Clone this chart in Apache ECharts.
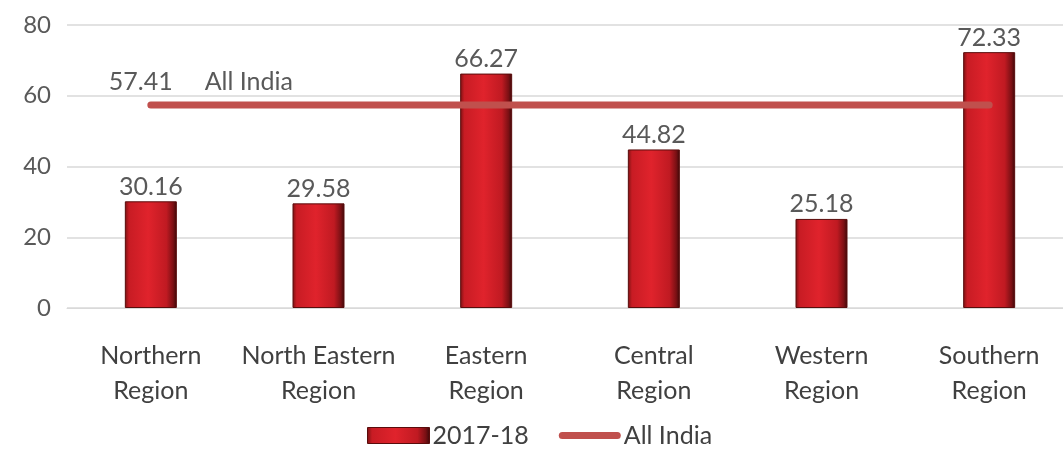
<!DOCTYPE html>
<html><head><meta charset="utf-8">
<script src="https://cdn.jsdelivr.net/npm/echarts@6/dist/echarts.min.js"></script>
<style>html,body{margin:0;padding:0;background:#fff;overflow:hidden}#c{width:1073px;height:455px}</style>
</head><body><div id="c"></div>
<script>
const categories = ['Northern\nRegion','North Eastern\nRegion','Eastern\nRegion','Central\nRegion','Western\nRegion','Southern\nRegion'];
const values2017 = [30.16, 29.58, 66.27, 44.82, 25.18, 72.33];
const allIndiaValue = 57.41;
const allIndia = categories.map(() => allIndiaValue);
const yTicks = [0, 20, 40, 60, 80];

const FONT = 'Lato, "Open Sans", sans-serif';
const chart = echarts.init(document.getElementById('c'));
const barGrad = new echarts.graphic.LinearGradient(0, 0, 1, 0, [
  {offset: 0, color: '#7a1212'},
  {offset: 0.08, color: '#c81c24'},
  {offset: 0.45, color: '#e0232c'},
  {offset: 0.8, color: '#c01a22'},
  {offset: 0.93, color: '#7a1014'},
  {offset: 1, color: '#3a0808'}
]);
chart.setOption({
  animation: false,
  textStyle: {fontFamily: FONT},
  grid: {left: 67, right: 0, top: 25, bottom: 147},
  legend: {
    bottom: 2, left: 362, itemGap: 30,
    textStyle: {fontSize: 25, color: '#404040', fontFamily: FONT, padding: [0, 0, 0, -2]},
    data: [
      {name: '2017-18', icon: 'rect', itemStyle: {color: barGrad, borderColor: '#5a0c0c', borderWidth: 1}},
      {name: 'All India', icon: 'path://M3.5,0 L58.5,0 A3.5,3.5 0 0 1 58.5,7 L3.5,7 A3.5,3.5 0 0 1 3.5,0 Z', itemStyle: {color: '#c0504d', borderWidth: 0}}
    ],
    itemWidth: 62, itemHeight: 16
  },
  xAxis: {
    type: 'category', data: categories,
    axisLine: {show: true, lineStyle: {color: '#d9d9d9', width: 1}},
    axisTick: {show: false},
    axisLabel: {fontSize: 25, color: '#404040', lineHeight: 35, margin: 30, fontFamily: FONT, interval: 0}
  },
  yAxis: {
    type: 'value', min: yTicks[0], max: yTicks[yTicks.length-1], interval: 20,
    axisLine: {show: false}, axisTick: {show: false},
    splitLine: {lineStyle: {color: '#d9d9d9', width: 1.5}},
    axisLabel: {fontSize: 24, color: '#595959', margin: 16, fontFamily: FONT}
  },
  series: [
    {
      name: '2017-18', type: 'bar', data: values2017, barWidth: 52,
      itemStyle: {color: barGrad, borderColor: '#5a0c0c', borderWidth: 1},
      label: {show: true, position: 'top', distance: 2, fontSize: 25, color: '#595959', fontFamily: FONT,
        formatter: p => p.value.toFixed(2)},
      z: 2
    },
    {
      name: 'All India', type: 'line', data: allIndia, symbol: 'none',
      lineStyle: {color: '#c0504d', width: 7, cap: 'round'},
      itemStyle: {color: '#c0504d'},
      z: 3,
      markPoint: {
        symbol: 'circle', symbolSize: 0,
        data: [{coord: [0, allIndiaValue], value: allIndiaValue}],
        label: {show: true, position: 'top', offset: [50, -5], fontSize: 25, color: '#595959', fontFamily: FONT,
          formatter: () => allIndiaValue.toFixed(2) + '     All India'}
      }
    }
  ]
});
</script></body></html>
